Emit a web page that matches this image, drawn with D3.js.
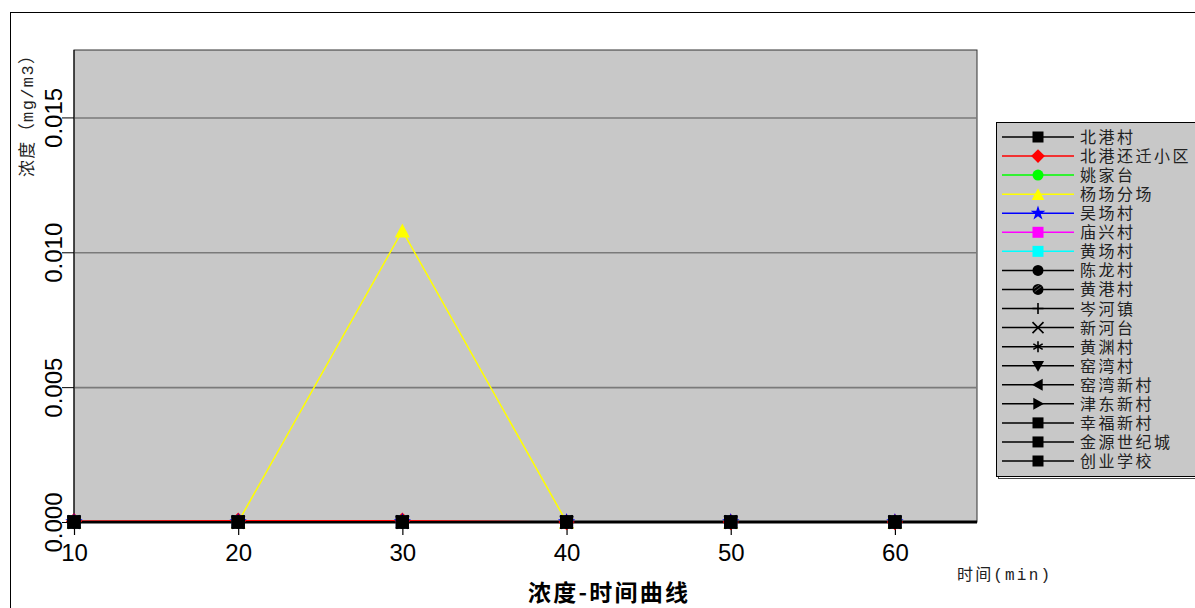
<!DOCTYPE html>
<html><head><meta charset="utf-8">
<script src="https://cdn.jsdelivr.net/npm/d3@7"></script>
<style>
html,body{margin:0;padding:0;background:#fff;}
svg{display:block;}
</style></head>
<body>
<svg id="chart" width="1195" height="608"></svg>
<script>
// ---------- data ----------
const times = [10, 20, 30, 40, 50, 60];
const seriesNames = ["北港村","北港还迁小区","姚家台","杨场分场","吴场村","庙兴村","黄场村","陈龙村","黄港村","岑河镇","新河台","黄渊村","窑湾村","窑湾新村","津东新村","幸福新村","金源世纪城","创业学校"];
const seriesColors = ["#000000","#ff0000","#00ff00","#ffff00","#0000ff","#ff00ff","#00ffff","#000000","#000000","#000000","#000000","#000000","#000000","#000000","#000000","#000000","#000000","#000000"];
const seriesMarkers = ["square","diamond","circle","triangleUp","star","square","square","circle","circleHatch","plus","times","asterisk","triangleDown","triangleLeft","triangleRight","square","square","square"];
const v北港村 = [0,0,0,0,0,0];
const v北港还迁小区 = [0.00003,0.00005,0.00005,0,0,0];
const v姚家台 = [0,0,0,0,0,0];
const v杨场分场 = [0,0,0.0108,0,0,0];
const v吴场村 = [0,0,0,0,0,0];
const v庙兴村 = [0,0,0,0,0,0];
const v黄场村 = [0,0,0,0,0,0];
const v陈龙村 = [0,0,0,0,0,0];
const v黄港村 = [0,0,0,0,0,0];
const v岑河镇 = [0,0,0,0,0,0];
const v新河台 = [0,0,0,0,0,0];
const v黄渊村 = [0,0,0,0,0,0];
const v窑湾村 = [0,0,0,0,0,0];
const v窑湾新村 = [0,0,0,0,0,0];
const v津东新村 = [0,0,0,0,0,0];
const v幸福新村 = [0,0,0,0,0,0];
const v金源世纪城 = [0,0,0,0,0,0];
const v创业学校 = [0,0,0,0,0,0];
const seriesValues = [v北港村,v北港还迁小区,v姚家台,v杨场分场,v吴场村,v庙兴村,v黄场村,v陈龙村,v黄港村,v岑河镇,v新河台,v黄渊村,v窑湾村,v窑湾新村,v津东新村,v幸福新村,v金源世纪城,v创业学校];
const xTicks = [10, 20, 30, 40, 50, 60];
const yTicks = [0, 0.005, 0.010, 0.015];
const chartTitle = "浓度-时间曲线";
const yTitle = "浓度（mg/m3）";
const xTitle = "时间(min)";

// ---------- layout ----------
const svg = d3.select("#chart");
const L = 74, R = 977, T = 50, B = 522;
const x = d3.scaleLinear().domain([10, 65]).range([L, R]);
const y = d3.scaleLinear().domain([0, 0.0175]).range([B, T]);
const CJK = "'Noto Sans CJK SC','Noto Sans',sans-serif";
const MONO = "'Liberation Mono','Noto Sans CJK SC',monospace";

// outer frame
svg.append("rect").attr("x",10.5).attr("y",12.5).attr("width",1200).attr("height",620)
  .attr("fill","none").attr("stroke","#000").attr("stroke-width",1);

// plot background
svg.append("rect").attr("x",L).attr("y",T).attr("width",R-L).attr("height",B-T)
  .attr("fill","#c8c8c8").attr("stroke","#333").attr("stroke-width",1);

// gridlines
svg.append("g").attr("transform",`translate(${L},0)`)
  .call(d3.axisLeft(y).tickValues(yTicks.slice(1)).tickSize(-(R-L)).tickFormat(""))
  .call(g=>g.select(".domain").remove())
  .call(g=>g.selectAll("line").attr("stroke","#7a7a7a").attr("stroke-width",1.6));

// y axis
const yAx = svg.append("g").attr("transform",`translate(${L},0)`)
  .call(d3.axisLeft(y).tickValues(yTicks).tickSize(12).tickFormat(d3.format(".3f")));
yAx.select(".domain").attr("stroke","#000").attr("d",`M0,${B}V${T}`);
yAx.selectAll(".tick line").attr("stroke","#000");
yAx.selectAll(".tick text")
  .attr("x",0).attr("dy",null).attr("y",0)
  .attr("transform","translate(-12,0) rotate(-90)")
  .attr("text-anchor","middle")
  .attr("font-family","'Liberation Sans',Arial,sans-serif").attr("font-size",24).attr("fill","#000");

// x axis
const xAx = svg.append("g").attr("transform",`translate(0,${B})`)
  .call(d3.axisBottom(x).tickValues(xTicks).tickSize(13).tickFormat(d3.format("d")));
xAx.select(".domain").attr("stroke","#000").attr("stroke-width",3).attr("d",`M${L},0H${R}`);
xAx.selectAll(".tick line").attr("stroke","#000").attr("stroke-width",1.2);
xAx.selectAll(".tick text").attr("y",39).attr("dy",null)
  .attr("font-family","'Liberation Sans',Arial,sans-serif").attr("font-size",24).attr("fill","#000");

// ---------- markers ----------
function markerPath(type, s){
  const h = s/2;
  switch(type){
    case "square": return `M${-h},${-h}H${h}V${h}H${-h}Z`;
    case "diamond": return `M0,${-h*1.25}L${h*1.25},0L0,${h*1.25}L${-h*1.25},0Z`;
    case "circle": case "circleHatch": return d3.symbol(d3.symbolCircle, Math.PI*h*h)();
    case "triangleUp": return `M0,${-h*1.1}L${h*1.15},${h*1.05}L${-h*1.15},${h*1.05}Z`;
    case "triangleDown": return `M0,${h*1.1}L${h*1.1},${-h*0.85}L${-h*1.1},${-h*0.85}Z`;
    case "triangleLeft": return `M${-h*1.1},0L${h*0.85},${-h*1.1}L${h*0.85},${h*1.1}Z`;
    case "triangleRight": return `M${h*1.1},0L${-h*0.85},${-h*1.1}L${-h*0.85},${h*1.1}Z`;
    case "star": return d3.symbol(d3.symbolStar, s*s*0.55)();
    case "plus": return `M${-h},0H${h}M0,${-h}V${h}`;
    case "times": return `M${-h},${-h}L${h},${h}M${h},${-h}L${-h},${h}`;
    case "asterisk": return `M0,${-h}V${h}M${-h*0.85},${-h*0.5}L${h*0.85},${h*0.5}M${h*0.85},${-h*0.5}L${-h*0.85},${h*0.5}`;
  }
}
const strokeMarkers = new Set(["plus","times","asterisk"]);
function drawMarker(g, type, color, cx, cy, s){
  const p = g.append("path").attr("transform",`translate(${cx},${cy})`).attr("d",markerPath(type,s));
  if(strokeMarkers.has(type)) p.attr("fill","none").attr("stroke",color).attr("stroke-width",1.6);
  else p.attr("fill",color);
  if(type==="circleHatch"){
    g.append("path").attr("transform",`translate(${cx},${cy})`)
      .attr("d",`M${-s*0.35},${-s*0.1}L${s*0.1},${-s*0.4}M${-s*0.3},${s*0.2}L${s*0.3},${-s*0.25}`)
      .attr("stroke","#666").attr("stroke-width",0.8);
  }
}

// ---------- series ----------
const line = d3.line().x((d,i)=>x(times[i])).y(d=>y(d));
const plotG = svg.append("g");
seriesNames.forEach((name,si)=>{
  const vals = seriesValues[si];
  plotG.append("path").datum(vals).attr("d",line)
    .attr("fill","none").attr("stroke",seriesColors[si]).attr("stroke-width",1.5);
});
seriesNames.forEach((name,si)=>{
  const vals = seriesValues[si];
  vals.forEach((v,i)=>drawMarker(plotG, seriesMarkers[si], seriesColors[si], x(times[i]), y(v), 13));
});

// ---------- legend ----------
const lg = svg.append("g");
const lgX = 996, lgY = 122, lgH = 354;
lg.append("rect").attr("x",lgX+2.5).attr("y",lgY+2.5).attr("width",300).attr("height",lgH)
  .attr("fill","none").attr("stroke","#444").attr("stroke-width",1);
lg.append("rect").attr("x",lgX+0.5).attr("y",lgY+0.5).attr("width",300).attr("height",lgH)
  .attr("fill","#c8c8c8").attr("stroke","#000").attr("stroke-width",1);
const rowY = d3.scaleLinear().domain([0,17]).range([137,461]);
seriesNames.forEach((name,si)=>{
  const ry = rowY(si);
  lg.append("line").attr("x1",1002).attr("x2",1074).attr("y1",ry).attr("y2",ry)
    .attr("stroke",seriesColors[si]).attr("stroke-width",1.5);
  drawMarker(lg, seriesMarkers[si], seriesColors[si], 1038, ry, 11);
  lg.append("text").attr("x",1080).attr("y",ry+6).text(name)
    .attr("font-family",CJK).attr("font-size",16).attr("letter-spacing",2.5).attr("fill","#222");
});

// ---------- titles ----------
svg.append("text").attr("transform","translate(33,112) rotate(-90)").attr("text-anchor","middle")
  .attr("font-family",MONO).attr("font-size",17).attr("fill","#222")
  .attr("textLength",130).attr("lengthAdjust","spacing").text(yTitle);
svg.append("text").attr("x",957).attr("y",580)
  .attr("font-family",MONO).attr("font-size",16).attr("fill","#222")
  .attr("textLength",93).attr("lengthAdjust","spacing").text(xTitle);
svg.append("text").attr("x",608).attr("y",601).attr("text-anchor","middle")
  .attr("font-family",CJK).attr("font-size",23).attr("font-weight","bold").attr("fill","#000")
  .attr("textLength",160).attr("lengthAdjust","spacing").text(chartTitle);
</script>
</body></html>
